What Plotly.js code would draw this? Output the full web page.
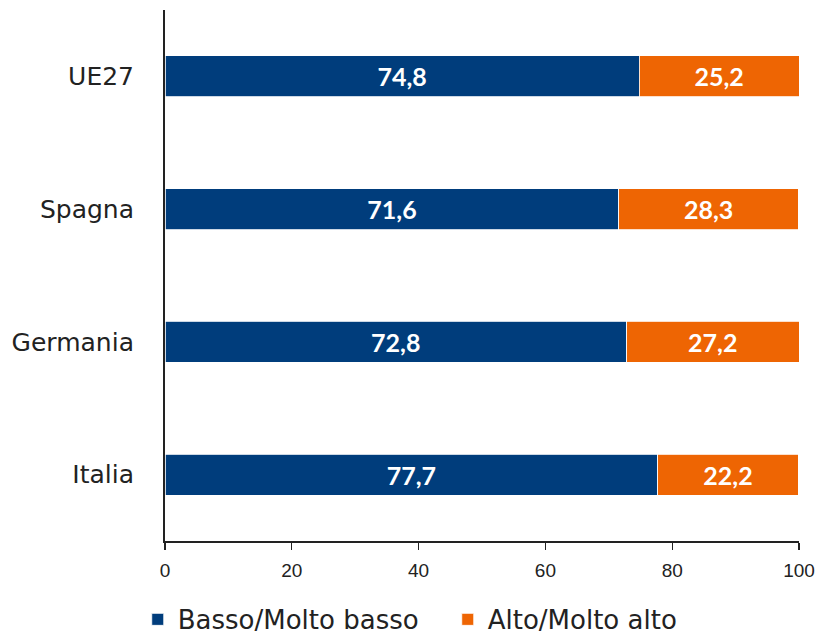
<!DOCTYPE html>
<html>
<head>
<meta charset="utf-8">
<script src="https://cdn.plot.ly/plotly-3.0.1.min.js"></script>
<style>html,body{margin:0;padding:0;background:#fff;}#chart{width:820px;height:634px;}</style>
</head>
<body>
<div id="chart"></div>
<script>
const categories = ["Italia", "Germania", "Spagna", "UE27"];
const basso = [77.7, 72.8, 71.6, 74.8];
const alto = [22.2, 27.2, 28.3, 25.2];
const seriesNames = ["Basso/Molto basso", "Alto/Molto alto"];
const xTicks = [0, 20, 40, 60, 80, 100];

const fmt = v => v.toFixed(1).replace('.', ',');
const LABEL_FONT = "'DejaVu Sans', sans-serif";

const common = {
  type: 'bar', orientation: 'h', y: categories,
  textposition: 'inside', insidetextanchor: 'middle',
  textfont: {color: '#ffffff', size: 25, family: "Lato, sans-serif", weight: 'bold'},
  width: 0.31, hoverinfo: 'none', cliponaxis: false
};
const data = [
  Object.assign({}, common, {name: seriesNames[0], x: basso, text: basso.map(fmt),
    marker: {color: '#003D7C', line: {color: '#ffffff', width: 0.8}}}),
  Object.assign({}, common, {name: seriesNames[1], x: alto, text: alto.map(fmt),
    marker: {color: '#EE6503', line: {color: '#ffffff', width: 0.8}}})
];
const layout = {
  width: 820, height: 634, barmode: 'stack',
  margin: {l: 165, r: 21, t: 10, b: 93, autoexpand: false},
  paper_bgcolor: '#fff', plot_bgcolor: '#fff',
  font: {family: LABEL_FONT, color: '#222'},
  xaxis: {range: [0, 100], tickvals: xTicks, ticktext: xTicks.map(String),
    showgrid: false, zeroline: false, showline: true, linecolor: '#222', linewidth: 1.5,
    ticks: 'outside', ticklen: 7, tickcolor: '#222', tickwidth: 1.2, ticklabelstandoff: 5,
    tickfont: {size: 19, color: '#222', family: "'Liberation Sans Narrow', sans-serif"},
    fixedrange: true, automargin: false},
  yaxis: {range: [-0.5, 3.5], showgrid: false, zeroline: false, showline: true,
    linecolor: '#222', linewidth: 2, ticks: '', ticklabelstandoff: 24,
    tickfont: {size: 25, color: '#222', family: LABEL_FONT}, fixedrange: true, automargin: false},
  showlegend: true,
  legend: {orientation: 'h', x: -0.043, xanchor: 'left',
    y: -0.192, yanchor: 'bottom', entrywidth: 265, entrywidthmode: 'pixels',
    font: {size: 26, color: '#222', family: LABEL_FONT}, traceorder: 'normal'}
};
Plotly.newPlot('chart', data, layout, {displayModeBar: false, staticPlot: true});
</script>
</body>
</html>
